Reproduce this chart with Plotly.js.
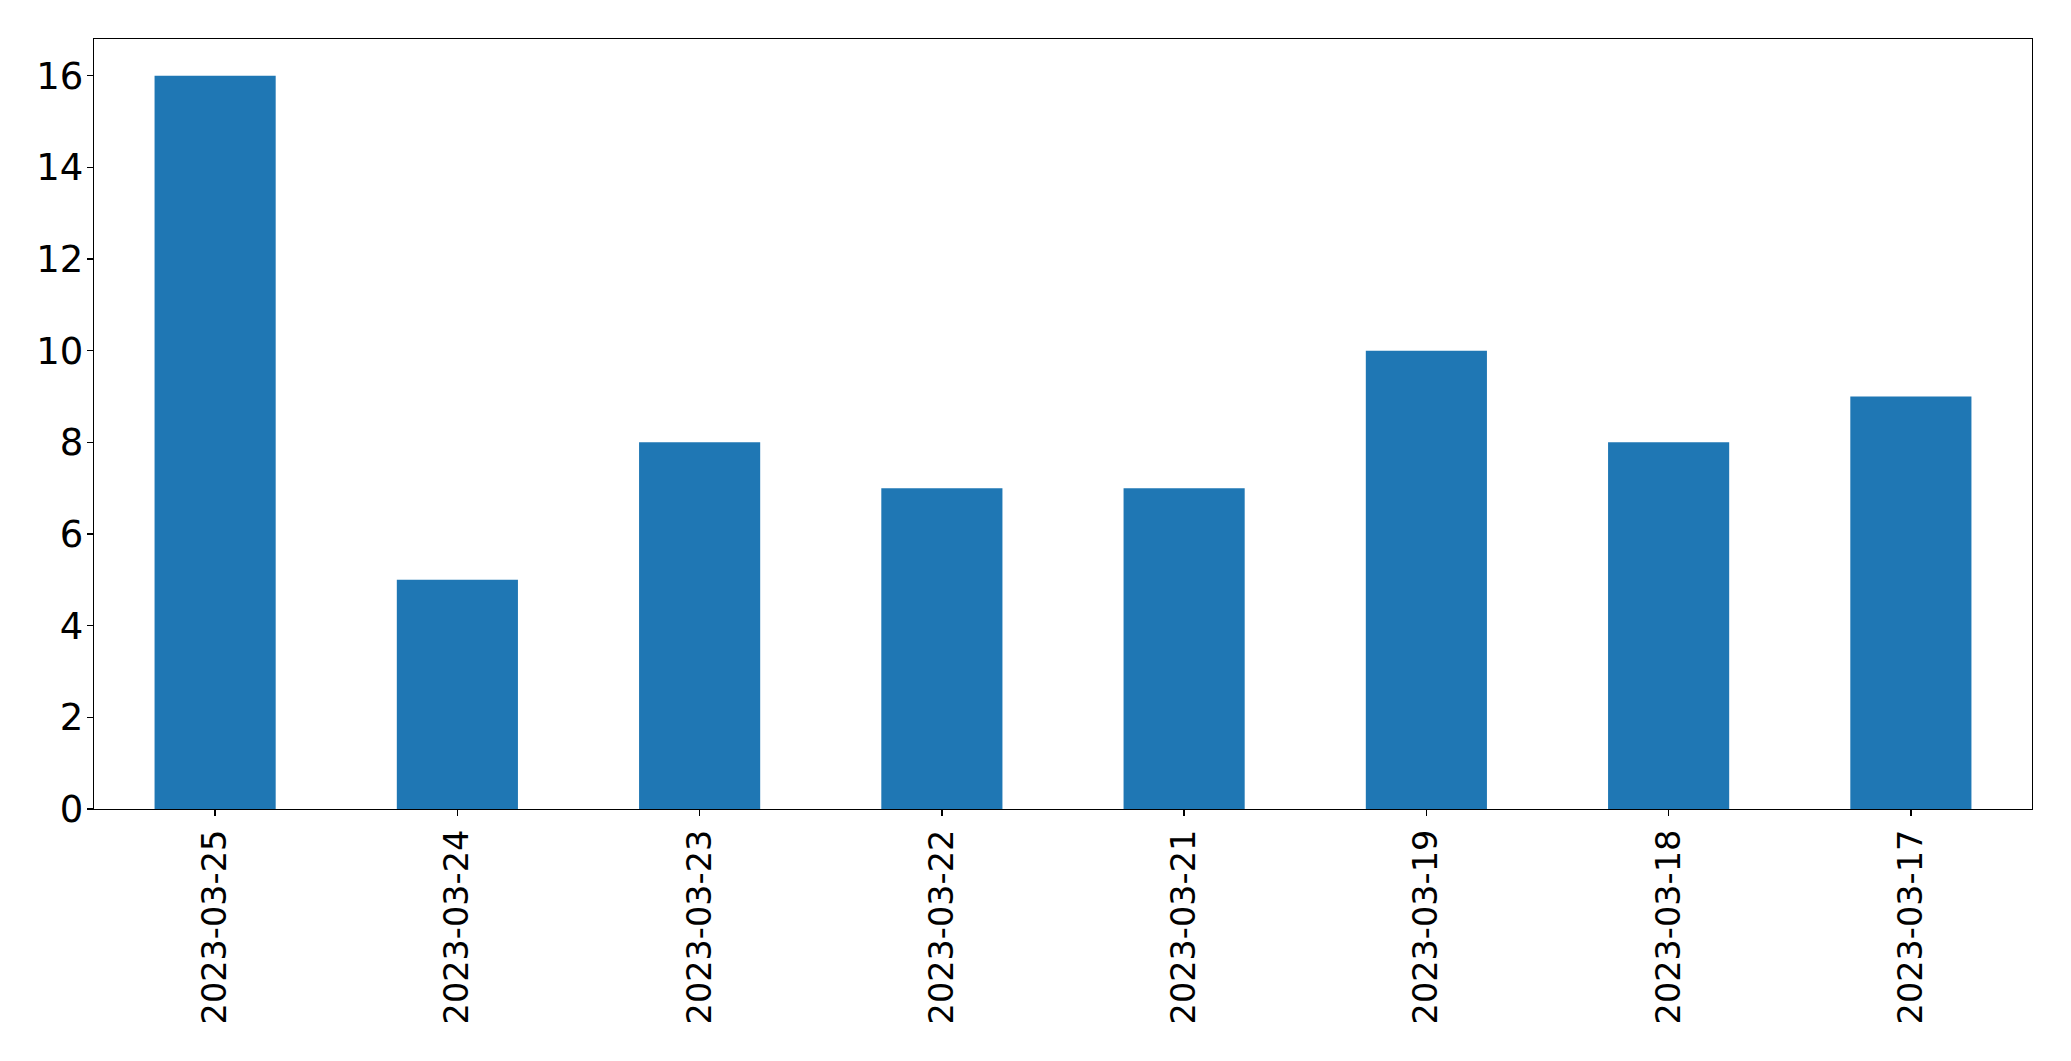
<!DOCTYPE html>
<html>
<head>
<meta charset="utf-8">
<script src="https://cdn.plot.ly/plotly-3.0.1.min.js"></script>
<style>html,body{margin:0;padding:0;background:#fff;}#chart{width:2071px;height:1061px;}</style>
</head>
<body>
<div id="chart"></div>
<script>
const dates = ["2023-03-25","2023-03-24","2023-03-23","2023-03-22","2023-03-21","2023-03-19","2023-03-18","2023-03-17"];
const counts = [16, 5, 8, 7, 7, 10, 8, 9];
const yTicks = [0, 2, 4, 6, 8, 10, 12, 14, 16];

const trace = {
  type: "bar",
  x: dates,
  y: counts,
  marker: {color: "#1f77b4", line: {width: 0}},
  hoverinfo: "x+y"
};

const xfont = {family: "DejaVu Sans", size: 33.5, color: "#000"};
const yfont = {family: "DejaVu Sans", size: 37, color: "#000"};

const layout = {
  width: 2071,
  height: 1061,
  margin: {l: 94, r: 39, t: 39, b: 252, pad: 0},
  paper_bgcolor: "#fff",
  plot_bgcolor: "#fff",
  showlegend: false,
  bargap: 0.5,
  font: xfont,
  xaxis: {
    type: "category",
    range: [-0.5, 7.5],
    tickangle: -90,
    ticks: "outside",
    ticklen: 6,
    tickwidth: 1.3,
    tickcolor: "#000",
    showline: true,
    mirror: true,
    linecolor: "#000",
    linewidth: 1.3,
    showgrid: false,
    zeroline: false,
    tickfont: xfont,
    fixedrange: true
  },
  yaxis: {
    range: [0, 16.8],
    tickvals: yTicks,
    ticktext: yTicks.map(String),
    ticks: "outside",
    ticklen: 6,
    tickwidth: 1.3,
    tickcolor: "#000",
    ticklabelstandoff: -4,
    showline: true,
    mirror: true,
    linecolor: "#000",
    linewidth: 1.3,
    showgrid: false,
    zeroline: false,
    tickfont: yfont,
    fixedrange: true
  }
};

Plotly.newPlot("chart", [trace], layout, {displayModeBar: false, staticPlot: true});
</script>
</body>
</html>
